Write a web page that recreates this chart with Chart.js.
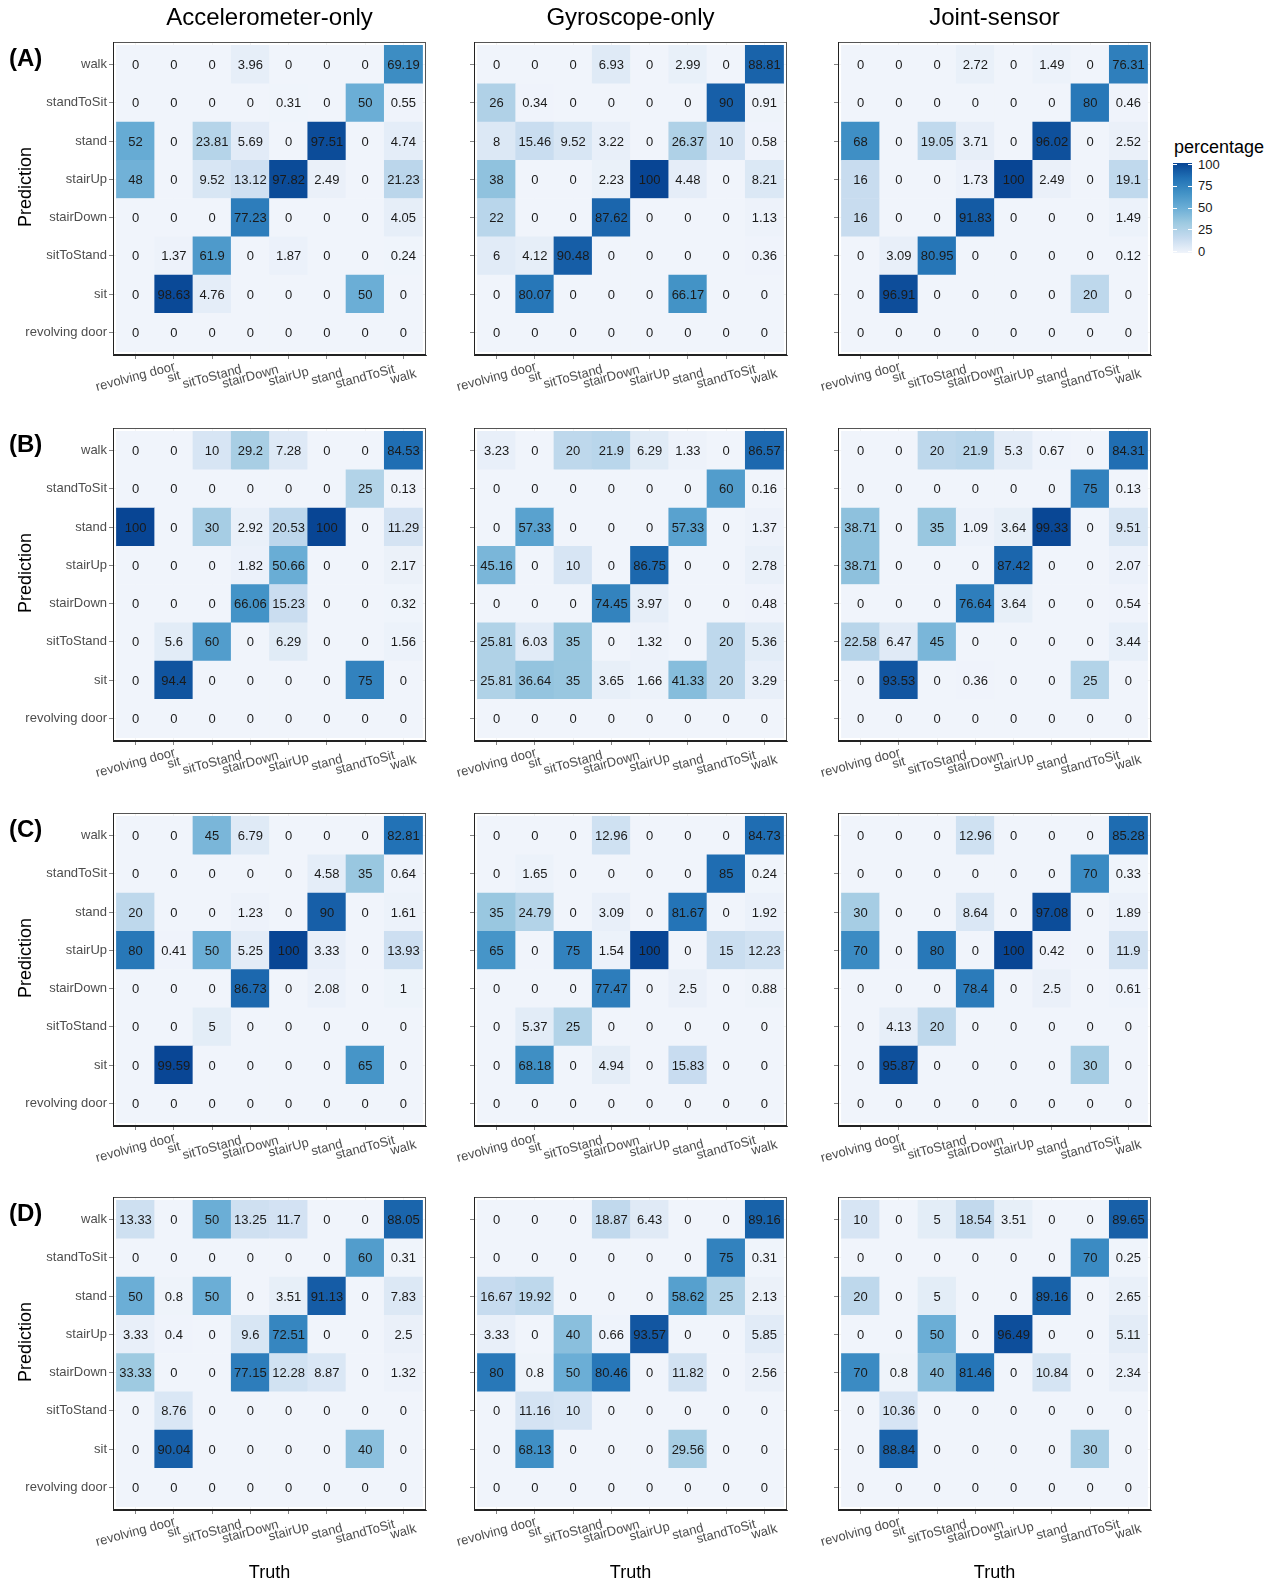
<!DOCTYPE html>
<html>
<head>
<meta charset="utf-8">
<script src="https://cdn.jsdelivr.net/npm/chart.js@4.4.0/dist/chart.umd.min.js"></script>
<style>
  body { margin: 0; background: #fff; font-family: 'Liberation Sans', Arial, Helvetica, sans-serif; }
  #page { position: relative; width: 1277px; height: 1582px; overflow: hidden; }
  #page canvas { position: absolute; }
  .txt { position: absolute; white-space: nowrap; color: #000; }
  .title { font-size: 24px; line-height: 28px; text-align: center; }
  .row { font-size: 24px; line-height: 28px; font-weight: bold; }
  .axt { font-size: 18px; line-height: 22px; text-align: center; width: 200px; }
  .leg { font-size: 13px; line-height: 16px; color: #1a1a1a; }
</style>
</head>
<body>
<div id="page"></div>
<script>
// categories (x: truth, left to right; y: prediction, bottom to top)
const activities = ['revolving door', 'sit', 'sitToStand', 'stairDown', 'stairUp', 'stand', 'standToSit', 'walk'];
const sensors = ['Accelerometer-only', 'Gyroscope-only', 'Joint-sensor'];
const rowNames = ['(A)', '(B)', '(C)', '(D)'];
const legendTicks = [0, 25, 50, 75, 100];

// matrices: rows listed top to bottom (walk ... revolving door), columns as in activities
const accA = [
  [0, 0, 0, 3.96, 0, 0, 0, 69.19],
  [0, 0, 0, 0, 0.31, 0, 50, 0.55],
  [52, 0, 23.81, 5.69, 0, 97.51, 0, 4.74],
  [48, 0, 9.52, 13.12, 97.82, 2.49, 0, 21.23],
  [0, 0, 0, 77.23, 0, 0, 0, 4.05],
  [0, 1.37, 61.9, 0, 1.87, 0, 0, 0.24],
  [0, 98.63, 4.76, 0, 0, 0, 50, 0],
  [0, 0, 0, 0, 0, 0, 0, 0]
];
const gyroA = [
  [0, 0, 0, 6.93, 0, 2.99, 0, 88.81],
  [26, 0.34, 0, 0, 0, 0, 90, 0.91],
  [8, 15.46, 9.52, 3.22, 0, 26.37, 10, 0.58],
  [38, 0, 0, 2.23, 100, 4.48, 0, 8.21],
  [22, 0, 0, 87.62, 0, 0, 0, 1.13],
  [6, 4.12, 90.48, 0, 0, 0, 0, 0.36],
  [0, 80.07, 0, 0, 0, 66.17, 0, 0],
  [0, 0, 0, 0, 0, 0, 0, 0]
];
const jointA = [
  [0, 0, 0, 2.72, 0, 1.49, 0, 76.31],
  [0, 0, 0, 0, 0, 0, 80, 0.46],
  [68, 0, 19.05, 3.71, 0, 96.02, 0, 2.52],
  [16, 0, 0, 1.73, 100, 2.49, 0, 19.1],
  [16, 0, 0, 91.83, 0, 0, 0, 1.49],
  [0, 3.09, 80.95, 0, 0, 0, 0, 0.12],
  [0, 96.91, 0, 0, 0, 0, 20, 0],
  [0, 0, 0, 0, 0, 0, 0, 0]
];
const accB = [
  [0, 0, 10, 29.2, 7.28, 0, 0, 84.53],
  [0, 0, 0, 0, 0, 0, 25, 0.13],
  [100, 0, 30, 2.92, 20.53, 100, 0, 11.29],
  [0, 0, 0, 1.82, 50.66, 0, 0, 2.17],
  [0, 0, 0, 66.06, 15.23, 0, 0, 0.32],
  [0, 5.6, 60, 0, 6.29, 0, 0, 1.56],
  [0, 94.4, 0, 0, 0, 0, 75, 0],
  [0, 0, 0, 0, 0, 0, 0, 0]
];
const gyroB = [
  [3.23, 0, 20, 21.9, 6.29, 1.33, 0, 86.57],
  [0, 0, 0, 0, 0, 0, 60, 0.16],
  [0, 57.33, 0, 0, 0, 57.33, 0, 1.37],
  [45.16, 0, 10, 0, 86.75, 0, 0, 2.78],
  [0, 0, 0, 74.45, 3.97, 0, 0, 0.48],
  [25.81, 6.03, 35, 0, 1.32, 0, 20, 5.36],
  [25.81, 36.64, 35, 3.65, 1.66, 41.33, 20, 3.29],
  [0, 0, 0, 0, 0, 0, 0, 0]
];
const jointB = [
  [0, 0, 20, 21.9, 5.3, 0.67, 0, 84.31],
  [0, 0, 0, 0, 0, 0, 75, 0.13],
  [38.71, 0, 35, 1.09, 3.64, 99.33, 0, 9.51],
  [38.71, 0, 0, 0, 87.42, 0, 0, 2.07],
  [0, 0, 0, 76.64, 3.64, 0, 0, 0.54],
  [22.58, 6.47, 45, 0, 0, 0, 0, 3.44],
  [0, 93.53, 0, 0.36, 0, 0, 25, 0],
  [0, 0, 0, 0, 0, 0, 0, 0]
];
const accC = [
  [0, 0, 45, 6.79, 0, 0, 0, 82.81],
  [0, 0, 0, 0, 0, 4.58, 35, 0.64],
  [20, 0, 0, 1.23, 0, 90, 0, 1.61],
  [80, 0.41, 50, 5.25, 100, 3.33, 0, 13.93],
  [0, 0, 0, 86.73, 0, 2.08, 0, 1],
  [0, 0, 5, 0, 0, 0, 0, 0],
  [0, 99.59, 0, 0, 0, 0, 65, 0],
  [0, 0, 0, 0, 0, 0, 0, 0]
];
const gyroC = [
  [0, 0, 0, 12.96, 0, 0, 0, 84.73],
  [0, 1.65, 0, 0, 0, 0, 85, 0.24],
  [35, 24.79, 0, 3.09, 0, 81.67, 0, 1.92],
  [65, 0, 75, 1.54, 100, 0, 15, 12.23],
  [0, 0, 0, 77.47, 0, 2.5, 0, 0.88],
  [0, 5.37, 25, 0, 0, 0, 0, 0],
  [0, 68.18, 0, 4.94, 0, 15.83, 0, 0],
  [0, 0, 0, 0, 0, 0, 0, 0]
];
const jointC = [
  [0, 0, 0, 12.96, 0, 0, 0, 85.28],
  [0, 0, 0, 0, 0, 0, 70, 0.33],
  [30, 0, 0, 8.64, 0, 97.08, 0, 1.89],
  [70, 0, 80, 0, 100, 0.42, 0, 11.9],
  [0, 0, 0, 78.4, 0, 2.5, 0, 0.61],
  [0, 4.13, 20, 0, 0, 0, 0, 0],
  [0, 95.87, 0, 0, 0, 0, 30, 0],
  [0, 0, 0, 0, 0, 0, 0, 0]
];
const accD = [
  [13.33, 0, 50, 13.25, 11.7, 0, 0, 88.05],
  [0, 0, 0, 0, 0, 0, 60, 0.31],
  [50, 0.8, 50, 0, 3.51, 91.13, 0, 7.83],
  [3.33, 0.4, 0, 9.6, 72.51, 0, 0, 2.5],
  [33.33, 0, 0, 77.15, 12.28, 8.87, 0, 1.32],
  [0, 8.76, 0, 0, 0, 0, 0, 0],
  [0, 90.04, 0, 0, 0, 0, 40, 0],
  [0, 0, 0, 0, 0, 0, 0, 0]
];
const gyroD = [
  [0, 0, 0, 18.87, 6.43, 0, 0, 89.16],
  [0, 0, 0, 0, 0, 0, 75, 0.31],
  [16.67, 19.92, 0, 0, 0, 58.62, 25, 2.13],
  [3.33, 0, 40, 0.66, 93.57, 0, 0, 5.85],
  [80, 0.8, 50, 80.46, 0, 11.82, 0, 2.56],
  [0, 11.16, 10, 0, 0, 0, 0, 0],
  [0, 68.13, 0, 0, 0, 29.56, 0, 0],
  [0, 0, 0, 0, 0, 0, 0, 0]
];
const jointD = [
  [10, 0, 5, 18.54, 3.51, 0, 0, 89.65],
  [0, 0, 0, 0, 0, 0, 70, 0.25],
  [20, 0, 5, 0, 0, 89.16, 0, 2.65],
  [0, 0, 50, 0, 96.49, 0, 0, 5.11],
  [70, 0.8, 40, 81.46, 0, 10.84, 0, 2.34],
  [0, 10.36, 0, 0, 0, 0, 0, 0],
  [0, 88.84, 0, 0, 0, 0, 30, 0],
  [0, 0, 0, 0, 0, 0, 0, 0]
];

const panels = [
  [accA, gyroA, jointA],
  [accB, gyroB, jointB],
  [accC, gyroC, jointC],
  [accD, gyroD, jointD]
];

// Blues (7 classes), light -> dark
const blues = ['#f0f4fb', '#c6dbef', '#9ecae1', '#6baed6', '#4292c6', '#2171b5', '#084594'];

// layout
const colLefts = [113, 474, 838];
const rowTops = [42, 428, 813, 1197];
const SIZE = 313;
const Y_AXIS_W = 110, PAD_T = 14, PAD_R = 14, X_AXIS_H = 60;
const FONT = "'Liberation Sans', Arial, Helvetica, sans-serif";

Chart.defaults.font.family = FONT;

function hexRgb(h) {
  return [1, 3, 5].map(i => parseInt(h.slice(i, i + 2), 16));
}
function tileColor(v) {
  const t = Math.max(0, Math.min(1, v / 100)) * (blues.length - 1);
  const i = Math.min(Math.floor(t), blues.length - 2);
  const f = t - i;
  const a = hexRgb(blues[i]), b = hexRgb(blues[i + 1]);
  const c = a.map((x, k) => Math.round(x + (b[k] - x) * f));
  return 'rgb(' + c.join(',') + ')';
}

const cellLabels = {
  id: 'cellLabels',
  afterDatasetsDraw(chart) {
    const ctx = chart.ctx;
    const ds = chart.data.datasets[0];
    ctx.save();
    ctx.font = '13px ' + FONT;
    ctx.fillStyle = '#1a1a1a';
    ctx.textAlign = 'center';
    ctx.textBaseline = 'middle';
    chart.getDatasetMeta(0).data.forEach((bar, i) => {
      const p = bar.getCenterPoint();
      ctx.fillText(String(ds.cellText[i]), p.x, p.y + 1);
    });
    ctx.restore();
  }
};

const panelFrame = {
  id: 'panelFrame',
  afterDraw(chart) {
    const a = chart.chartArea;
    const ctx = chart.ctx;
    ctx.save();
    ctx.strokeStyle = '#555';
    ctx.lineWidth = 1;
    ctx.strokeRect(Math.round(a.left) + 0.5, Math.round(a.top) + 0.5, Math.round(a.right - a.left) - 1, Math.round(a.bottom - a.top) - 1);
    ctx.strokeStyle = '#222';
    ctx.beginPath();
    ctx.moveTo(Math.round(a.left) + 0.5, Math.round(a.top));
    ctx.lineTo(Math.round(a.left) + 0.5, Math.round(a.bottom) - 0.5);
    ctx.lineTo(Math.round(a.right), Math.round(a.bottom) - 0.5);
    ctx.stroke();
    ctx.restore();
  }
};

const xLabels = {
  id: 'xLabels',
  afterDraw(chart) {
    const ctx = chart.ctx;
    const xs = chart.scales.x;
    const y = chart.chartArea.bottom + 22;
    ctx.save();
    ctx.font = '13px ' + FONT;
    ctx.fillStyle = '#4d4d4d';
    ctx.textAlign = 'center';
    ctx.textBaseline = 'middle';
    activities.forEach((name, i) => {
      ctx.save();
      ctx.translate(xs.getPixelForValue(i), y);
      ctx.rotate(-15 * Math.PI / 180);
      ctx.fillText(name, 0, 0);
      ctx.restore();
    });
    ctx.restore();
  }
};

const page = document.getElementById('page');
function addText(cls, text, css) {
  const d = document.createElement('div');
  d.className = 'txt ' + cls;
  d.textContent = text;
  Object.assign(d.style, css);
  page.appendChild(d);
  return d;
}

const n = activities.length;
const lim = [-0.59, n - 1 + 0.59];

panels.forEach((rowPanels, r) => {
  rowPanels.forEach((matrix, c) => {
    const cells = [];
    matrix.forEach((vals, ri) => {
      vals.forEach((v, ci) => {
        cells.push({ x: ci, y: n - 1 - ri, v: v });
      });
    });
    const canvas = document.createElement('canvas');
    canvas.width = Y_AXIS_W + SIZE + PAD_R;
    canvas.height = PAD_T + SIZE + X_AXIS_H;
    canvas.style.left = (colLefts[c] - Y_AXIS_W) + 'px';
    canvas.style.top = (rowTops[r] - PAD_T) + 'px';
    page.appendChild(canvas);

    const grid = { color: '#ebebeb', lineWidth: 0.6, tickColor: '#333', tickLength: 4, offset: false };
    new Chart(canvas, {
      type: 'bar',
      data: {
        datasets: [{
          data: cells.map(p => ({ x: p.x, y: [p.y - 0.5, p.y + 0.5] })),
          cellText: cells.map(p => p.v),
          backgroundColor: cells.map(p => tileColor(p.v)),
          borderWidth: 0,
          barPercentage: 1,
          categoryPercentage: 1
        }]
      },
      options: {
        responsive: false,
        animation: false,
        events: [],
        layout: { padding: { top: PAD_T, right: PAD_R, left: 0, bottom: 0 } },
        plugins: { legend: { display: false }, tooltip: { enabled: false } },
        scales: {
          x: {
            type: 'linear', min: lim[0], max: lim[1], offset: false,
            afterBuildTicks: s => { s.ticks = activities.map((_, i) => ({ value: i })); },
            afterFit: s => { s.height = X_AXIS_H; },
            ticks: { display: false },
            grid: grid,
            border: { color: '#222', width: 1 }
          },
          y: {
            type: 'linear', min: lim[0], max: lim[1], offset: false,
            afterBuildTicks: s => { s.ticks = activities.map((_, i) => ({ value: i })); },
            afterFit: s => { s.width = Y_AXIS_W; },
            ticks: {
              callback: v => (c === 0 ? activities[v] : ''),
              color: '#4d4d4d', font: { size: 13 }, padding: 2, autoSkip: false
            },
            grid: grid,
            border: { color: '#222', width: 1 }
          }
        }
      },
      plugins: [cellLabels, panelFrame, xLabels]
    });
  });

  // row label and y title
  addText('row', rowNames[r], { left: '9px', top: (rowTops[r] + 2) + 'px' });
  const d = addText('axt', 'Prediction', { left: (24.5 - 100) + 'px', top: (rowTops[r] + SIZE / 2 - 12 - 11) + 'px' });
  d.style.transform = 'rotate(-90deg)';
});

// column titles and x titles
sensors.forEach((s, c) => {
  addText('title', s, { left: colLefts[c] + 'px', width: SIZE + 'px', top: '3px' });
  addText('axt', 'Truth', { left: (colLefts[c] + SIZE / 2 - 100) + 'px', top: '1561px' });
});

// colour bar legend
const barTop = 163, barH = 90, barLeft = 1173, barW = 19;
addText('axt', 'percentage', { left: '1174px', top: '136px', width: 'auto', textAlign: 'left' });
const bar = document.createElement('div');
Object.assign(bar.style, {
  position: 'absolute', left: barLeft + 'px', top: barTop + 'px', width: barW + 'px', height: barH + 'px',
  background: 'linear-gradient(to top, ' + blues.join(', ') + ')'
});
page.appendChild(bar);
legendTicks.forEach(v => {
  const y = barTop + 1.5 + (100 - v) / 100 * (barH - 3);
  [0, barW - 4].forEach(dx => {
    const t = document.createElement('div');
    Object.assign(t.style, { position: 'absolute', left: (barLeft + dx) + 'px', top: (y - 0.5) + 'px', width: '4px', height: '1px', background: '#fff' });
    page.appendChild(t);
  });
  addText('leg', String(v), { left: '1198px', top: (y - 8) + 'px' });
});
</script>
</body>
</html>
